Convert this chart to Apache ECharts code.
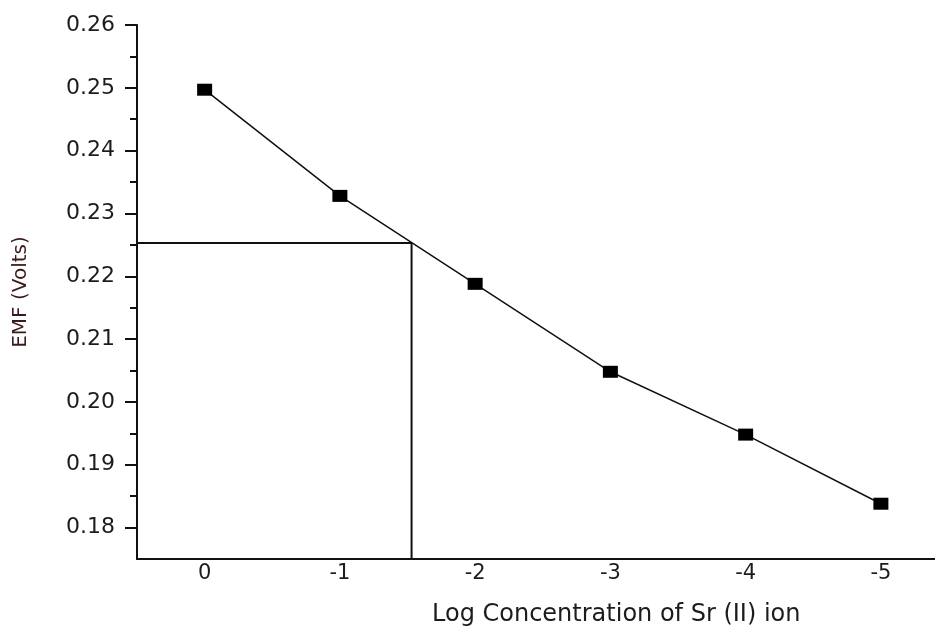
<!DOCTYPE html>
<html>
<head>
<meta charset="utf-8">
<script src="https://cdn.jsdelivr.net/npm/echarts@6/dist/echarts.min.js"></script>
<style>
  html, body { margin: 0; padding: 0; background: #fff; }
  #chart { width: 935px; height: 631px; }
</style>
</head>
<body>
<div id="chart"></div>
<script>
// data
const logConc = [0, -1, -2, -3, -4, -5]
const emf = [0.2497, 0.2328, 0.2188, 0.2048, 0.1948, 0.1838]
const xTicks = [0, -1, -2, -3, -4, -5]
const yTicks = [0.18, 0.19, 0.20, 0.21, 0.22, 0.23, 0.24, 0.25, 0.26]
const yMinor = [0.185, 0.195, 0.205, 0.215, 0.225, 0.235, 0.245, 0.255]
// read-off guide line (x at sample emf)
const guideX = [0.5, -1.53, -1.53]
const guideY = [0.2253, 0.2253, 0.175]

const font = 'DejaVu Sans'
const txt = '#1c1c1c'

const chart = echarts.init(document.getElementById('chart'))

chart.setOption({
  animation: false,
  backgroundColor: '#fff',
  grid: { left: 137, right: 0, top: 25, bottom: 72 },
  xAxis: {
    type: 'value',
    min: -5.4,
    max: 0.5,
    inverse: true,
    splitLine: { show: false },
    axisLine: { onZero: false, lineStyle: { color: '#111', width: 2 } },
    axisTick: { show: false },
    axisLabel: {
      customValues: xTicks,
      margin: 4,
      color: txt,
      fontFamily: font,
      fontSize: 21,
      formatter: v => String(Math.round(v))
    }
  },
  yAxis: [
    {
      type: 'value',
      min: 0.175,
      max: 0.26,
      position: 'left',
      offset: 0,
      name: 'EMF (Volts)',
      nameLocation: 'middle',
      nameGap: 106,
      nameTextStyle: { color: '#3a1a1a', fontFamily: font, fontSize: 20 },
      splitLine: { show: false },
      axisLine: { show: true, onZero: false, lineStyle: { color: '#111', width: 2 } },
      axisTick: { show: true, customValues: yTicks, length: 12, lineStyle: { color: '#111', width: 2 } },
      axisLabel: {
        customValues: yTicks,
        margin: 22,
        color: txt,
        fontFamily: font,
        fontSize: 22,
        formatter: v => v.toFixed(2)
      }
    },
    {
      type: 'value',
      min: 0.175,
      max: 0.26,
      position: 'left',
      offset: 0,
      splitLine: { show: false },
      axisLine: { show: false, onZero: false },
      axisTick: { show: true, customValues: yMinor, length: 7, lineStyle: { color: '#111', width: 2 } },
      axisLabel: { show: false }
    }
  ],
  graphic: [
    {
      type: 'text',
      left: 432,
      top: 603,
      style: {
        text: 'Log Concentration of Sr (II) ion',
        fill: txt,
        font: '24px "DejaVu Sans"'
      }
    }
  ],
  series: [
    {
      type: 'line',
      data: guideX.map((x, i) => [x, guideY[i]]),
      symbol: 'none',
      lineStyle: { color: '#111', width: 2 },
      z: 1
    },
    {
      type: 'line',
      data: logConc.map((x, i) => [x, emf[i]]),
      symbol: 'rect',
      symbolSize: [15, 12],
      itemStyle: { color: '#000' },
      lineStyle: { color: '#111', width: 1.5 },
      z: 2
    }
  ]
})
</script>
</body>
</html>
